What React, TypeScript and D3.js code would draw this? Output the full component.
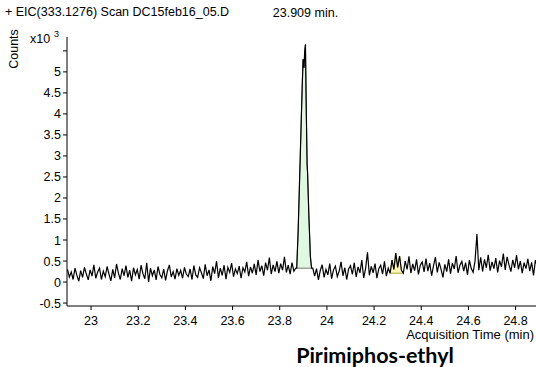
import React from "react";
import * as d3 from "d3";

// scan data, counts x10^3
const scanStep = 0.008;
const leadStart = 22.9;
const leadCounts = [
  0.30, 0.12, 0.24, 0.06, 0.33, 0.16, 0.02, 0.27, 0.11, 0.35, 0.19, 0.05, 0.29, 0.14, 0.41, 0.09, 0.24, 0.33, 0.06, 0.26,
  0.13, 0.37, 0.19, 0.03, 0.30, 0.10, 0.43, 0.21, 0.06, 0.32, 0.15, 0.39, 0.11, 0.28, 0.02, 0.34, 0.17, 0.30, 0.07, 0.40,
  0.20, 0.08, 0.46, 0.00, 0.33, 0.15, 0.29, 0.05, 0.37, 0.18, 0.10, 0.31, 0.04, 0.27, 0.41, 0.12, 0.25, 0.07, 0.32, 0.16,
  0.28, 0.09, 0.35, 0.19, 0.13, 0.31, 0.06, 0.39, 0.17, 0.11, 0.34, 0.22, 0.08, 0.42, 0.15, 0.29, 0.03, 0.37, 0.20, 0.50,
  0.10, 0.33, 0.16, 0.40, 0.07, 0.35, 0.23, 0.45, 0.13, 0.31, 0.20, 0.38, 0.09, 0.34, 0.24, 0.48, 0.14, 0.36, 0.21, 0.43,
  0.17, 0.52, 0.25, 0.39, 0.15, 0.46, 0.28, 0.58, 0.19, 0.41, 0.25, 0.49, 0.21, 0.44, 0.28, 0.60, 0.23, 0.40, 0.19, 0.46, 0.26, 0.33,
];

const peakTimes = [23.872, 23.878, 23.884, 23.890, 23.895, 23.899, 23.903, 23.906, 23.909, 23.912, 23.916, 23.918, 23.924, 23.930, 23.935];
const peakCounts = [0.33, 1.2, 2.4, 3.6, 4.6, 5.3, 5.1, 5.5, 5.65, 4.3, 2.8, 2.6, 1.5, 0.6, 0.33];

const tailStart = 23.94;
const tailCounts = [
  0.33, 0.14, 0.32, 0.05, 0.28, 0.41, 0.11, 0.30, 0.17, 0.44, 0.08, 0.29, 0.38, 0.13, 0.26, 0.48, 0.15, 0.34, 0.06, 0.31,
  0.39, 0.18, 0.46, 0.12, 0.36, 0.22, 0.52, 0.10, 0.32, 0.71, 0.16, 0.37, 0.22, 0.44, 0.09, 0.32, 0.40, 0.19, 0.49, 0.14,
  0.33, 0.21, 0.52, 0.30, 0.69, 0.35, 0.62, 0.28, 0.21, 0.50, 0.30, 0.61, 0.21, 0.43, 0.27, 0.54, 0.18, 0.40, 0.48, 0.24,
  0.56, 0.26, 0.45, 0.15, 0.39, 0.59, 0.23, 0.47, 0.30, 0.11, 0.42, 0.25, 0.54, 0.20, 0.45, 0.31, 0.62, 0.22, 0.40, 0.49,
  0.26, 0.46, 0.17, 0.52, 0.32, 0.23, 0.50, 1.14, 0.28, 0.59, 0.25, 0.54, 0.34, 0.65, 0.27, 0.48, 0.32, 0.57, 0.23, 0.51,
  0.36, 0.68, 0.29, 0.60, 0.41, 0.25, 0.53, 0.34, 0.64, 0.30, 0.50, 0.21, 0.46, 0.32, 0.55, 0.26, 0.47, 0.16, 0.52, 0.37,
];

// integrated regions: [start, end, baseline]
const mainPeak = [23.872, 23.935, 0.33];
const minorPeak = [24.268, 24.324, 0.21];

const xTicks = [23, 23.2, 23.4, 23.6, 23.8, 24, 24.2, 24.4, 24.6, 24.8];
const yTicks = [-0.5, 0, 0.5, 1, 1.5, 2, 2.5, 3, 3.5, 4, 4.5, 5, 5.5];

const W = 536;
const H = 367;
const font = "'Liberation Sans', Arial, sans-serif";

export default function App() {
  const x = d3.scaleLinear().domain([22.898, 24.895]).range([67, 538]);
  const y = d3.scaleLinear().domain([-0.57, 5.83]).range([306, 37]);

  const pts: [number, number][] = [
    ...leadCounts.map((c, i) => [leadStart + i * scanStep, c] as [number, number]),
    ...peakTimes.map((t, i) => [t, peakCounts[i]] as [number, number]),
    ...tailCounts.map((c, i) => [tailStart + i * scanStep, c] as [number, number]),
  ];

  const line = d3.line<[number, number]>().x(d => x(d[0])).y(d => y(d[1]));

  // filled area between the trace and the integration baseline
  const region = (r: number[]) => {
    const inside = pts.filter(d => d[0] >= r[0] - 1e-9 && d[0] <= r[1] + 1e-9);
    const poly: [number, number][] = [[r[0], r[2]], ...inside, [r[1], r[2]]];
    return line(poly) + "Z";
  };

  const yAxisX = x.range()[0];
  const xAxisY = y.range()[0];

  return (
    <svg width={W} height={H} style={{ position: "fixed", left: 0, top: 0, background: "#fff" }} fontFamily={font}>
      <text x={5} y={16} fontSize={12.5}>+ EIC(333.1276) Scan DC15feb16_05.D</text>
      <text transform="translate(18,49) rotate(-90)" textAnchor="middle" fontSize={12.5}>Counts</text>
      <text x={30} y={43} fontSize={12.5}>x10</text>
      <text x={54} y={37} fontSize={9}>3</text>

      <path d={region(mainPeak)} fill="#e0f8e0" stroke="#777" strokeWidth={1} />
      <path d={region(minorPeak)} fill="#fbf6b8" stroke="#b5a640" strokeWidth={1} />
      <path d={line(pts) ?? ""} fill="none" stroke="#000" strokeWidth={1.2} strokeLinejoin="miter" />

      <text x={x(23.909)} y={17} textAnchor="middle" fontSize={12.5}>23.909 min.</text>

      {/* y axis */}
      <line x1={yAxisX} x2={yAxisX} y1={y.range()[1]} y2={xAxisY} stroke="#000" />
      {yTicks.map(t => (
        <g key={t}>
          <line x1={yAxisX - 4} x2={yAxisX} y1={y(t)} y2={y(t)} stroke="#000" />
          {t !== 5.5 && (
            <text x={yAxisX - 6} y={y(t) + 4.5} textAnchor="end" fontSize={12.5}>{t}</text>
          )}
        </g>
      ))}

      {/* x axis */}
      <line x1={yAxisX} x2={W} y1={xAxisY} y2={xAxisY} stroke="#000" />
      {xTicks.map(t => (
        <g key={t}>
          <line x1={x(t)} x2={x(t)} y1={xAxisY} y2={xAxisY + 4} stroke="#000" />
          <text x={x(t)} y={xAxisY + 19} textAnchor="middle" fontSize={12.5}>{t}</text>
        </g>
      ))}
      <text x={534} y={339} textAnchor="end" fontSize={13}>Acquisition Time (min)</text>

      <text x={375} y={363} textAnchor="middle" fontSize={21.5} fontWeight="bold" fontFamily="Lato, 'Open Sans', sans-serif">Pirimiphos-ethyl</text>
    </svg>
  );
}
